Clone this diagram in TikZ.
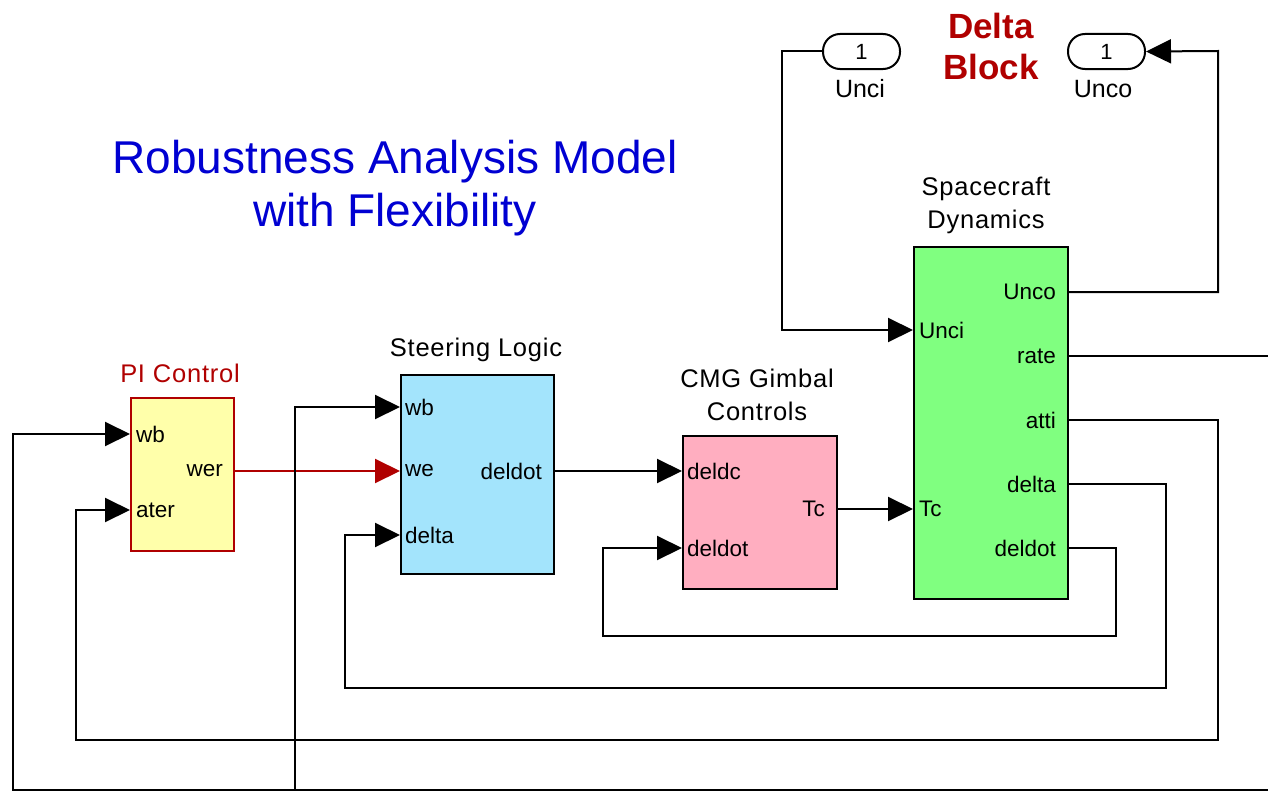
\documentclass[tikz,border=0pt]{standalone}
\usepackage{fontspec}
\setmainfont{Liberation Sans}
\usetikzlibrary{arrows.meta}
\definecolor{piyellow}{RGB}{255,255,170}
\definecolor{pired}{RGB}{176,0,0}
\definecolor{slblue}{RGB}{163,228,252}
\definecolor{cmgpink}{RGB}{255,174,192}
\definecolor{sdgreen}{RGB}{128,255,128}
\definecolor{ttlblue}{RGB}{0,0,210}
\tikzset{
  blk/.style={draw=black, line width=2pt, rectangle, anchor=north west, inner sep=0pt},
  sig/.style={draw=black, line width=2pt, -{Triangle[length=25pt,width=24pt]}},
  wire/.style={draw=black, line width=2pt},
  inlbl/.style={anchor=west, inner sep=0pt, font=\fontsize{22.5}{26}\selectfont},
  outlbl/.style={anchor=east, inner sep=0pt, font=\fontsize{22.5}{26}\selectfont},
  bname/.style={inner sep=0pt, font=\fontsize{25.5}{33}\selectfont\addfontfeature{LetterSpace=3}, align=center},
  pill/.style={draw=black, line width=2pt, rounded corners=17pt, minimum width=77pt, minimum height=35pt, inner sep=0pt, font=\fontsize{22}{26}\selectfont},
}
\begin{document}
\begin{tikzpicture}[x=1pt,y=-1pt]
\useasboundingbox (0,0) rectangle (1268,792);
% blocks
\node[blk, fill=piyellow, draw=pired, minimum width=103pt, minimum height=153pt] (pi) at (130,397) {};
\node[blk, fill=slblue, minimum width=153pt, minimum height=199pt] (sl) at (400,374) {};
\node[blk, fill=cmgpink, minimum width=154pt, minimum height=153pt] (cmg) at (682,435) {};
\node[blk, fill=sdgreen, minimum width=154pt, minimum height=352pt] (sd) at (913,246) {};
% block names
\node[bname, text=pired] (piname) at (180,373) {PI Control};
\node[bname] (slname) at (476,350) {Steering Logic};
\node[bname] (cmgname) at (757,395) {CMG Gimbal\\Controls};
\node[bname] (sdname) at (986,205) {Spacecraft\\Dynamics};
% ports
\coordinate (pi-wb) at (130,434);
\coordinate (pi-ater) at (130,510);
\coordinate (pi-wer) at (233,471);
\coordinate (sl-wb) at (400,407);
\coordinate (sl-we) at (400,471);
\coordinate (sl-delta) at (400,535);
\coordinate (sl-deldot) at (553,471);
\coordinate (cmg-deldc) at (682,471);
\coordinate (cmg-deldot) at (682,548);
\coordinate (cmg-tc) at (836,509);
\coordinate (sd-unci) at (913,330);
\coordinate (sd-tc) at (913,509);
\coordinate (sd-unco) at (1067,292);
\coordinate (sd-rate) at (1067,356);
\coordinate (sd-atti) at (1067,420);
\coordinate (sd-delta) at (1067,484);
\coordinate (sd-deldot) at (1067,548);
% port labels
\node[inlbl] (l1) at (136,434) {wb};
\node[inlbl] (l2) at (136,510) {ater};
\node[outlbl] (l3) at (223,471) {wer};
\node[inlbl] (l4) at (405,407) {wb};
\node[inlbl] (l5) at (405,471) {we};
\node[inlbl] (l6) at (405,535) {delta};
\node[outlbl] (l7) at (542,471) {deldot};
\node[inlbl] (l8) at (687,471) {deldc};
\node[inlbl] (l9) at (687,548) {deldot};
\node[outlbl] (l10) at (825,509) {Tc};
\node[inlbl] (l11) at (919,330) {Unci};
\node[inlbl] (l12) at (919,509) {Tc};
\node[outlbl] (l13) at (1056,292) {Unco};
\node[outlbl] (l14) at (1056,356) {rate};
\node[outlbl] (l15) at (1056,420) {atti};
\node[outlbl] (l16) at (1056,484) {delta};
\node[outlbl] (l17) at (1056,548) {deldot};
% inport / outport
\node[pill] (inci) at (861.5,51.5) {1};
\node[pill] (inco) at (1106.5,51.5) {1};
\node[font=\fontsize{25}{28}\selectfont, inner sep=0pt] (incilbl) at (860,89) {Unci};
\node[font=\fontsize{25}{28}\selectfont, inner sep=0pt] (incolbl) at (1103,89) {Unco};
% titles
\node[text=pired, font=\bfseries\fontsize{35}{41}\selectfont, align=center, inner sep=0pt] (delta) at (991,46) {Delta\\Block};
\node[text=ttlblue, font=\fontsize{46}{53}\selectfont, align=center, inner sep=0pt] (title) at (395,188) {Robustness Analysis Model\\with Flexibility};
% edge coordinates
\coordinate (rateend) at (1268,356);
\coordinate (wbsrc) at (1268,790);
\coordinate (jn) at (295,790);
% connections
\draw[sig, draw=pired, -{Triangle[length=25pt,width=24pt,fill=pired]}] (pi-wer) -- (sl-we);
\draw[sig] (sl-deldot) -- (cmg-deldc);
\draw[sig] (cmg-tc) -- (sd-tc);
\draw[wire] (sd-rate) -- (rateend);
\draw[sig] (sd-atti) -| (1218,740) -| (76,510) -- (pi-ater);
\draw[sig] (sd-delta) -| (1166,688) -| (345,535) -- (sl-delta);
\draw[sig] (sd-deldot) -| (1116,636) -| (603,548) -- (cmg-deldot);
\draw[sig] (wbsrc) -- (13,790) |- (pi-wb);
\draw[sig] (jn) |- (sl-wb);
\draw[sig] (inci.west) -| (782,330) -- (sd-unci);
\draw[sig] (sd-unco) -| (1218,51) -- (inco.east);
\end{tikzpicture}
\end{document}
